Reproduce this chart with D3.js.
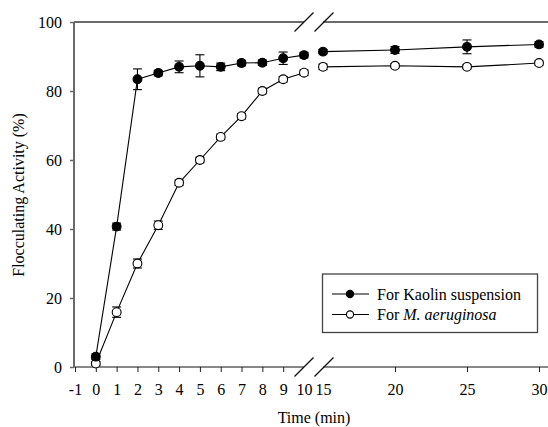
<!DOCTYPE html>
<html>
<head>
<meta charset="utf-8">
<script src="https://cdn.jsdelivr.net/npm/d3@7"></script>
<style>
  body { margin: 0; background: #fff; }
  svg text { font-family: "Liberation Serif", "Times New Roman", Times, "DejaVu Serif", serif; fill: #000; }
</style>
</head>
<body>
<svg id="chart" width="548" height="427"></svg>
<script>
const times = [0, 1, 2, 3, 4, 5, 6, 7, 8, 9, 10, 15, 20, 25, 30];
const kaolin = [3.0, 40.7, 83.4, 85.2, 87.0, 87.3, 87.0, 88.1, 88.2, 89.5, 90.4, 91.4, 91.9, 92.8, 93.5];
const kaolinErr = [0.8, 1.0, 3.0, 0.8, 1.7, 3.2, 1.1, 0.8, 0.8, 1.8, 0.8, 0.6, 1.0, 2.0, 0.8];
const aeruginosa = [1.0, 15.9, 30.0, 41.1, 53.4, 60.0, 66.7, 72.7, 80.0, 83.4, 85.3, 87.0, 87.3, 87.0, 88.1];
const aeruginosaErr = [0.5, 1.5, 1.3, 1.2, 0.8, 0.8, 0.8, 0.8, 0.8, 0.8, 0.8, 0.8, 0.6, 0.6, 0.6];
const ticksLeft = [-1, 0, 1, 2, 3, 4, 5, 6, 7, 8, 9, 10];
const ticksRight = [15, 20, 25, 30];
const yTicks = [0, 20, 40, 60, 80, 100];

const svg = d3.select('#chart');
const axisX = 74, yTop = 22, yBottom = 367;
const serif = '"Liberation Serif", "Times New Roman", Times, "DejaVu Serif", serif';
const fs = 16;

const xa = d3.scaleLinear().domain([-1, 10]).range([75, 304]);
const xb = d3.scaleLinear().domain([15, 30]).range([323, 539]);
const x = t => t <= 10 ? xa(t) : xb(t);
const y = d3.scaleLinear().domain([0, 100]).range([yBottom, yTop]);

// axes (hyphen minus like the original)
const gxa = svg.append('g').attr('transform', `translate(0,${yBottom})`)
  .call(d3.axisBottom(xa).tickValues(ticksLeft).tickSize(5).tickPadding(12).tickFormat(d => String(d)));
const gxb = svg.append('g').attr('transform', `translate(0,${yBottom})`)
  .call(d3.axisBottom(xb).tickValues(ticksRight).tickSize(5).tickPadding(12).tickFormat(d => String(d)));
[gxa, gxb].forEach(g => {
  g.attr('font-family', serif).attr('font-size', fs);
  g.select('.domain').remove();
  g.selectAll('line').attr('stroke', '#222');
});
gxa.selectAll('.tick').filter(d => d === 10).select('line').remove();
gxb.selectAll('.tick').filter(d => d === 15).select('line').remove();

// axis lines with break gap
svg.append('line').attr('x1', axisX).attr('x2', 304).attr('y1', yBottom).attr('y2', yBottom).attr('stroke', '#111').attr('stroke-width', 1.2);
svg.append('line').attr('x1', 323).attr('x2', 548).attr('y1', yBottom).attr('y2', yBottom).attr('stroke', '#111').attr('stroke-width', 1.2);
svg.append('line').attr('x1', axisX).attr('x2', 304).attr('y1', yTop).attr('y2', yTop).attr('stroke', '#6a6a6a').attr('stroke-width', 2);
svg.append('line').attr('x1', 323).attr('x2', 548).attr('y1', yTop).attr('y2', yTop).attr('stroke', '#6a6a6a').attr('stroke-width', 2);

const gy = svg.append('g').attr('transform', `translate(${axisX},0)`)
  .call(d3.axisLeft(y).tickValues(yTicks).tickSize(4).tickPadding(8));
gy.attr('font-family', serif).attr('font-size', fs);
gy.select('.domain').attr('stroke', '#6a6a6a').attr('stroke-width', 2).attr('d', `M0,${yBottom}V${yTop}`);
gy.selectAll('line').attr('stroke', '#6a6a6a').attr('stroke-width', 1.5);

// break marks
[[304, yTop], [324, yTop], [304, yBottom], [324, yBottom]].forEach(([cx, cy]) => {
  svg.append('line').attr('x1', cx - 9.5).attr('y1', cy + 9.5).attr('x2', cx + 9.5).attr('y2', cy - 9.5)
    .attr('stroke', '#111').attr('stroke-width', 1.2);
});

// series
const series = [
  {values: aeruginosa, err: aeruginosaErr, fill: '#fff'},
  {values: kaolin, err: kaolinErr, fill: '#000'}
];
const line = d3.line().x(d => x(d.t)).y(d => y(d.v));

series.forEach(s => {
  const pts = times.map((t, i) => ({t, v: s.values[i], e: s.err[i]}));
  const g = svg.append('g');
  [pts.filter(d => d.t <= 10), pts.filter(d => d.t >= 15)].forEach(seg => {
    g.append('path').attr('d', line(seg)).attr('fill', 'none').attr('stroke', '#000').attr('stroke-width', 1.1);
  });
  const eb = g.selectAll('.err').data(pts).join('g').attr('class', 'err');
  eb.append('line').attr('x1', d => x(d.t)).attr('x2', d => x(d.t))
    .attr('y1', d => y(d.v - d.e)).attr('y2', d => y(d.v + d.e)).attr('stroke', '#000').attr('stroke-width', 1.1);
  [-1, 1].forEach(sgn => {
    eb.append('line').attr('x1', d => x(d.t) - 4.5).attr('x2', d => x(d.t) + 4.5)
      .attr('y1', d => y(d.v + sgn * d.e)).attr('y2', d => y(d.v + sgn * d.e)).attr('stroke', '#000').attr('stroke-width', 1.1);
  });
  g.selectAll('circle').data(pts).join('circle')
    .attr('cx', d => x(d.t)).attr('cy', d => y(d.v)).attr('r', 4.4)
    .attr('fill', s.fill).attr('stroke', '#000').attr('stroke-width', 1.1);
});

// axis titles
svg.append('text').attr('x', 314).attr('y', 423).attr('text-anchor', 'middle').attr('font-size', fs).text('Time (min)');
svg.append('text').attr('transform', `translate(24,195) rotate(-90)`)
  .attr('text-anchor', 'middle').attr('font-size', fs).text('Flocculating Activity (%)');

// legend
const lg = svg.append('g');
lg.append('rect').attr('x', 322.5).attr('y', 274).attr('width', 215).attr('height', 58.5)
  .attr('fill', '#fff').attr('stroke', '#444').attr('stroke-width', 1.3);
const legendItems = [
  {label: 'For Kaolin suspension', fill: '#000', y: 294},
  {label: 'For ', italic: 'M. aeruginosa', fill: '#fff', y: 314.5}
];
legendItems.forEach(d => {
  lg.append('line').attr('x1', 332).attr('x2', 369).attr('y1', d.y).attr('y2', d.y).attr('stroke', '#000').attr('stroke-width', 1.1);
  lg.append('circle').attr('cx', 350).attr('cy', d.y).attr('r', 3.6).attr('fill', d.fill).attr('stroke', '#000').attr('stroke-width', 1.1);
  const t = lg.append('text').attr('x', 377).attr('y', d.y + 5.5).attr('font-size', fs).text(d.label);
  if (d.italic) t.append('tspan').attr('font-style', 'italic').text(d.italic);
});
</script>
</body>
</html>
